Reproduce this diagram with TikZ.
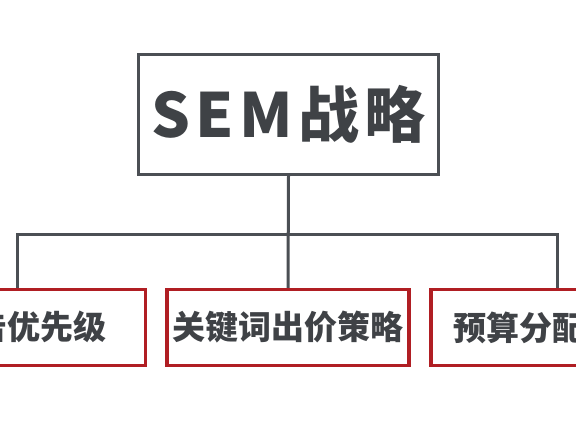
\documentclass[tikz,border=0pt]{standalone}
\usepackage{fontspec}
\newfontfamily\cjk{Noto Sans CJK SC}
\newfontfamily\cjkwide{Noto Sans CJK SC}[LetterSpace=9]
\definecolor{linegray}{HTML}{4B4F54}
\definecolor{boxred}{HTML}{B01E23}
\definecolor{textgray}{HTML}{3F4246}
\begin{document}
\begin{tikzpicture}[
    x=1pt, y=-1pt,
    topbox/.style={draw=linegray, line width=3pt, minimum width=300pt, minimum height=120pt, inner sep=0pt, text=textgray, font=\cjkwide\bfseries\fontsize{61}{63}\selectfont},
    subbox/.style={draw=boxred, line width=3.5pt, minimum width=242pt, minimum height=76pt, inner sep=0pt, text=textgray, font=\cjk\bfseries\fontsize{33}{35}\selectfont},
    link/.style={draw=linegray, line width=3pt},
]
\clip (0,0) rectangle (576,432);
\fill[white] (0,0) rectangle (576,432);

% === Top box ===
\node[topbox] (sem) at (288.5,114.5) {SEM战略};

% === Sub boxes ===
\node[subbox] (ad) at (24.5,327.5) {广告优先级};
\node[subbox] (kw) at (288,327.5) {关键词出价策略};
\node[subbox] (bud) at (552,327.5) {预算分配策略};

% Junction points on the bar
\coordinate (lj) at (17,234);
\coordinate (rj) at (557,234);

% Connectors
\draw[link] (sem.south) -- (kw.north);
\draw[link] (lj |- ad.north) -- (lj) -- (rj) -- (rj |- bud.north);

\end{tikzpicture}
\end{document}
